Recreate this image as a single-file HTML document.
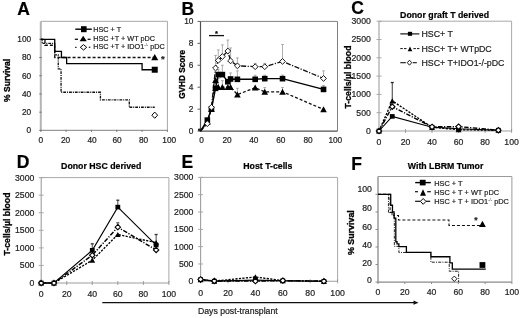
<!DOCTYPE html><html><head><meta charset="utf-8"><style>html,body{margin:0;padding:0;background:#fff;width:520px;height:318px;overflow:hidden}svg{will-change:transform;filter:blur(0.3px)}svg{display:block;font-family:"Liberation Sans", sans-serif}</style></head><body>
<svg width="520" height="318" viewBox="0 0 520 318">
<rect width="520" height="318" fill="#fff"/>
<text x="17.3" y="15.3" font-size="17.5" text-anchor="start" font-weight="bold" fill="#000" stroke="#000" stroke-width="0.2" >A</text>
<line x1="40.8" y1="21.3" x2="167.4" y2="21.3" stroke="#a8a8a8" stroke-width="1.0"/>
<line x1="167.4" y1="21.3" x2="167.4" y2="130.4" stroke="#a8a8a8" stroke-width="1.0"/>
<line x1="40.8" y1="21.3" x2="40.8" y2="130.9" stroke="#b4b4b4" stroke-width="2.0"/>
<line x1="40.3" y1="130.4" x2="167.4" y2="130.4" stroke="#9a9a9a" stroke-width="1.2"/>
<line x1="39.3" y1="130.4" x2="41.8" y2="130.4" stroke="#777" stroke-width="1"/>
<text x="31.2" y="133.3" font-size="8.3" text-anchor="end" fill="#222" stroke="#222" stroke-width="0.2" >0</text>
<line x1="39.3" y1="112.18" x2="41.8" y2="112.18" stroke="#777" stroke-width="1"/>
<text x="31.2" y="115.08" font-size="8.3" text-anchor="end" fill="#222" stroke="#222" stroke-width="0.2" >20</text>
<line x1="39.3" y1="93.96" x2="41.8" y2="93.96" stroke="#777" stroke-width="1"/>
<text x="31.2" y="96.86" font-size="8.3" text-anchor="end" fill="#222" stroke="#222" stroke-width="0.2" >40</text>
<line x1="39.3" y1="75.74" x2="41.8" y2="75.74" stroke="#777" stroke-width="1"/>
<text x="31.2" y="78.64" font-size="8.3" text-anchor="end" fill="#222" stroke="#222" stroke-width="0.2" >60</text>
<line x1="39.3" y1="57.52" x2="41.8" y2="57.52" stroke="#777" stroke-width="1"/>
<text x="31.2" y="60.42" font-size="8.3" text-anchor="end" fill="#222" stroke="#222" stroke-width="0.2" >80</text>
<line x1="39.3" y1="39.3" x2="41.8" y2="39.3" stroke="#777" stroke-width="1"/>
<text x="31.2" y="42.2" font-size="8.3" text-anchor="end" fill="#222" stroke="#222" stroke-width="0.2" >100</text>
<line x1="40.8" y1="129.9" x2="40.8" y2="131.9" stroke="#777" stroke-width="1"/>
<text x="40.8" y="142.6" font-size="8.3" text-anchor="middle" fill="#222" stroke="#222" stroke-width="0.2" >0</text>
<line x1="66.12" y1="129.9" x2="66.12" y2="131.9" stroke="#777" stroke-width="1"/>
<text x="65.5" y="142.6" font-size="8.3" text-anchor="middle" fill="#222" stroke="#222" stroke-width="0.2" >20</text>
<line x1="91.44" y1="129.9" x2="91.44" y2="131.9" stroke="#777" stroke-width="1"/>
<text x="92" y="142.6" font-size="8.3" text-anchor="middle" fill="#222" stroke="#222" stroke-width="0.2" >40</text>
<line x1="116.76" y1="129.9" x2="116.76" y2="131.9" stroke="#777" stroke-width="1"/>
<text x="117.1" y="142.6" font-size="8.3" text-anchor="middle" fill="#222" stroke="#222" stroke-width="0.2" >60</text>
<line x1="142.08" y1="129.9" x2="142.08" y2="131.9" stroke="#777" stroke-width="1"/>
<text x="143.6" y="142.6" font-size="8.3" text-anchor="middle" fill="#222" stroke="#222" stroke-width="0.2" >80</text>
<line x1="167.4" y1="129.9" x2="167.4" y2="131.9" stroke="#777" stroke-width="1"/>
<text x="169.2" y="142.6" font-size="8.3" text-anchor="middle" fill="#222" stroke="#222" stroke-width="0.2" >100</text>
<text transform="translate(9.8,80.4) rotate(-90)" font-size="8.5" font-weight="bold" text-anchor="middle" fill="#000" stroke="#000" stroke-width="0.3">% Survival</text>
<polyline points="40.8,39.3 42.19,39.3 42.19,43.4 54.73,43.4 54.73,54.79 58.27,54.79 58.27,68.91 61.06,68.91 61.06,92.23 100.43,92.23 100.43,99.88 129.29,99.88 129.29,107.26 154.74,107.26" fill="none" stroke="#111" stroke-width="1.3" stroke-dasharray="2.8 1 1 1" stroke-linejoin="miter"/>
<polyline points="40.8,39.3 44.98,39.3 44.98,45.22 54.73,45.22 54.73,57.52 154.74,57.52" fill="none" stroke="#111" stroke-width="1.35" stroke-dasharray="3 2" stroke-linejoin="miter"/>
<polyline points="40.8,39.3 54.73,39.3 54.73,51.33 61.44,51.33 61.44,57.52 66.63,57.52 66.63,63.62 142.08,63.62 142.08,69.73 154.74,69.73" fill="none" stroke="#000" stroke-width="1.3" stroke-linejoin="miter"/>
<rect x="151.74" y="66.73" width="6" height="6" fill="#000"/>
<polygon points="154.74,53.89 158.26,60.29 151.22,60.29" fill="#000"/>
<polygon points="154.74,112.09 157.64,115.19 154.74,118.29 151.84,115.19" fill="#fff" stroke="#000" stroke-width="1.0"/>
<text x="161.1" y="62.3" font-size="9.5" text-anchor="start" font-weight="bold" fill="#222" stroke="#222" stroke-width="0.2" >*</text>
<line x1="75.3" y1="29.2" x2="91.8" y2="29.2" stroke="#000" stroke-width="1.4"/>
<rect x="81" y="26.2" width="5.6" height="6" fill="#000"/>
<line x1="74.8" y1="39.3" x2="78" y2="39.3" stroke="#111" stroke-width="1.3"/>
<line x1="87.6" y1="39.3" x2="90.6" y2="39.3" stroke="#111" stroke-width="1.3"/>
<polygon points="83.2,35.7 86.8,41.3 79.6,41.3" fill="#000"/>
<line x1="75.1" y1="47.3" x2="76.6" y2="47.3" stroke="#222" stroke-width="1.3"/>
<line x1="88.8" y1="47.3" x2="90.3" y2="47.3" stroke="#222" stroke-width="1.3"/>
<polygon points="83.5,44.6 86.7,47.3 83.5,50 80.3,47.3" fill="#fff" stroke="#000" stroke-width="1.0"/>
<text x="93.2" y="32.3" font-size="7.25" text-anchor="start" fill="#222" stroke="#222" stroke-width="0.2" >HSC + T</text>
<text x="93.2" y="40.9" font-size="7.25" text-anchor="start" fill="#222" stroke="#222" stroke-width="0.2" >HSC +T + WT pDC</text>
<text x="93.2" y="48.9" font-size="7.25" text-anchor="start" fill="#222" stroke="#222" stroke-width="0.2" >HSC +T + IDO1<tspan font-size="4.2" dy="-2.8" stroke-width="0">-/-</tspan><tspan dy="2.8"> pDC</tspan></text>
<text x="181.6" y="14.5" font-size="17.5" text-anchor="start" font-weight="bold" fill="#000" stroke="#000" stroke-width="0.2" >B</text>
<line x1="200.5" y1="21.4" x2="337.5" y2="21.4" stroke="#808080" stroke-width="1.0"/>
<line x1="337.5" y1="21.4" x2="337.5" y2="131.1" stroke="#808080" stroke-width="1.0"/>
<line x1="200.5" y1="21.4" x2="200.5" y2="131.6" stroke="#505050" stroke-width="1.2"/>
<line x1="200" y1="131.1" x2="337.5" y2="131.1" stroke="#505050" stroke-width="1.2"/>
<line x1="197.5" y1="131.1" x2="200.5" y2="131.1" stroke="#606060" stroke-width="1"/>
<text x="193.4" y="134" font-size="8.3" text-anchor="end" fill="#222" stroke="#222" stroke-width="0.2" >0</text>
<line x1="197.5" y1="109.16" x2="200.5" y2="109.16" stroke="#606060" stroke-width="1"/>
<text x="193.4" y="112.06" font-size="8.3" text-anchor="end" fill="#222" stroke="#222" stroke-width="0.2" >2</text>
<line x1="197.5" y1="87.22" x2="200.5" y2="87.22" stroke="#606060" stroke-width="1"/>
<text x="193.4" y="90.12" font-size="8.3" text-anchor="end" fill="#222" stroke="#222" stroke-width="0.2" >4</text>
<line x1="197.5" y1="65.28" x2="200.5" y2="65.28" stroke="#606060" stroke-width="1"/>
<text x="193.4" y="68.18" font-size="8.3" text-anchor="end" fill="#222" stroke="#222" stroke-width="0.2" >6</text>
<line x1="197.5" y1="43.34" x2="200.5" y2="43.34" stroke="#606060" stroke-width="1"/>
<text x="193.4" y="46.24" font-size="8.3" text-anchor="end" fill="#222" stroke="#222" stroke-width="0.2" >8</text>
<line x1="197.5" y1="21.4" x2="200.5" y2="21.4" stroke="#606060" stroke-width="1"/>
<text x="193.4" y="24.3" font-size="8.3" text-anchor="end" fill="#222" stroke="#222" stroke-width="0.2" >10</text>
<text x="201.6" y="142.6" font-size="8.3" text-anchor="middle" fill="#222" stroke="#222" stroke-width="0.2" >0</text>
<text x="227" y="142.6" font-size="8.3" text-anchor="middle" fill="#222" stroke="#222" stroke-width="0.2" >20</text>
<text x="253.8" y="142.6" font-size="8.3" text-anchor="middle" fill="#222" stroke="#222" stroke-width="0.2" >40</text>
<text x="280.8" y="142.6" font-size="8.3" text-anchor="middle" fill="#222" stroke="#222" stroke-width="0.2" >60</text>
<text x="308.1" y="142.6" font-size="8.3" text-anchor="middle" fill="#222" stroke="#222" stroke-width="0.2" >80</text>
<text x="335.3" y="142.6" font-size="8.3" text-anchor="middle" fill="#222" stroke="#222" stroke-width="0.2" >100</text>
<text transform="translate(184.7,74.4) rotate(-90)" font-size="8.2" font-weight="bold" text-anchor="middle" fill="#000" stroke="#000" stroke-width="0.3">GVHD Score</text>
<line x1="209" y1="35.6" x2="224" y2="35.6" stroke="#111" stroke-width="1.3"/>
<text x="215" y="36.4" font-size="7.5" text-anchor="start" font-weight="bold" fill="#000" stroke="#000" stroke-width="0.2" >*</text>
<line x1="215.54" y1="68.02" x2="215.54" y2="55.41" stroke="#999" stroke-width="0.8"/>
<line x1="214.14" y1="55.41" x2="216.94" y2="55.41" stroke="#999" stroke-width="0.8"/>
<line x1="218.27" y1="60.34" x2="218.27" y2="49.92" stroke="#999" stroke-width="0.8"/>
<line x1="216.87" y1="49.92" x2="219.67" y2="49.92" stroke="#999" stroke-width="0.8"/>
<line x1="222.37" y1="56.5" x2="222.37" y2="44.88" stroke="#999" stroke-width="0.8"/>
<line x1="220.97" y1="44.88" x2="223.77" y2="44.88" stroke="#999" stroke-width="0.8"/>
<line x1="227.84" y1="51.02" x2="227.84" y2="40.05" stroke="#999" stroke-width="0.8"/>
<line x1="226.44" y1="40.05" x2="229.24" y2="40.05" stroke="#999" stroke-width="0.8"/>
<line x1="230.57" y1="60.89" x2="230.57" y2="47.95" stroke="#999" stroke-width="0.8"/>
<line x1="229.17" y1="47.95" x2="231.97" y2="47.95" stroke="#999" stroke-width="0.8"/>
<line x1="237.41" y1="65.83" x2="237.41" y2="57.93" stroke="#999" stroke-width="0.8"/>
<line x1="236.01" y1="57.93" x2="238.81" y2="57.93" stroke="#999" stroke-width="0.8"/>
<line x1="255.18" y1="66.71" x2="255.18" y2="63.42" stroke="#999" stroke-width="0.8"/>
<line x1="253.78" y1="63.42" x2="256.58" y2="63.42" stroke="#999" stroke-width="0.8"/>
<line x1="264.75" y1="66.71" x2="264.75" y2="63.42" stroke="#999" stroke-width="0.8"/>
<line x1="263.35" y1="63.42" x2="266.15" y2="63.42" stroke="#999" stroke-width="0.8"/>
<line x1="282.52" y1="61.44" x2="282.52" y2="44.44" stroke="#999" stroke-width="0.8"/>
<line x1="281.12" y1="44.44" x2="283.92" y2="44.44" stroke="#999" stroke-width="0.8"/>
<line x1="323.53" y1="78.44" x2="323.53" y2="70.87" stroke="#999" stroke-width="0.8"/>
<line x1="322.13" y1="70.87" x2="324.93" y2="70.87" stroke="#999" stroke-width="0.8"/>
<line x1="218.27" y1="74.6" x2="218.27" y2="69.67" stroke="#999" stroke-width="0.8"/>
<line x1="216.87" y1="69.67" x2="219.67" y2="69.67" stroke="#999" stroke-width="0.8"/>
<line x1="222.37" y1="74.6" x2="222.37" y2="65.28" stroke="#999" stroke-width="0.8"/>
<line x1="220.97" y1="65.28" x2="223.77" y2="65.28" stroke="#999" stroke-width="0.8"/>
<line x1="230.57" y1="78.99" x2="230.57" y2="72.96" stroke="#999" stroke-width="0.8"/>
<line x1="229.17" y1="72.96" x2="231.97" y2="72.96" stroke="#999" stroke-width="0.8"/>
<line x1="237.41" y1="79.32" x2="237.41" y2="70.87" stroke="#999" stroke-width="0.8"/>
<line x1="236.01" y1="70.87" x2="238.81" y2="70.87" stroke="#999" stroke-width="0.8"/>
<line x1="255.18" y1="79.32" x2="255.18" y2="75.26" stroke="#999" stroke-width="0.8"/>
<line x1="253.78" y1="75.26" x2="256.58" y2="75.26" stroke="#999" stroke-width="0.8"/>
<line x1="264.75" y1="78.66" x2="264.75" y2="75.26" stroke="#999" stroke-width="0.8"/>
<line x1="263.35" y1="75.26" x2="266.15" y2="75.26" stroke="#999" stroke-width="0.8"/>
<line x1="282.52" y1="78.66" x2="282.52" y2="75.15" stroke="#999" stroke-width="0.8"/>
<line x1="281.12" y1="75.15" x2="283.92" y2="75.15" stroke="#999" stroke-width="0.8"/>
<line x1="323.53" y1="89.41" x2="323.53" y2="85.57" stroke="#999" stroke-width="0.8"/>
<line x1="322.13" y1="85.57" x2="324.93" y2="85.57" stroke="#999" stroke-width="0.8"/>
<line x1="218.27" y1="87.22" x2="218.27" y2="78.44" stroke="#999" stroke-width="0.8"/>
<line x1="216.87" y1="78.44" x2="219.67" y2="78.44" stroke="#999" stroke-width="0.8"/>
<line x1="222.37" y1="87.22" x2="222.37" y2="80.64" stroke="#999" stroke-width="0.8"/>
<line x1="220.97" y1="80.64" x2="223.77" y2="80.64" stroke="#999" stroke-width="0.8"/>
<line x1="230.57" y1="87.22" x2="230.57" y2="81.73" stroke="#999" stroke-width="0.8"/>
<line x1="229.17" y1="81.73" x2="231.97" y2="81.73" stroke="#999" stroke-width="0.8"/>
<line x1="237.41" y1="94.57" x2="237.41" y2="88.32" stroke="#999" stroke-width="0.8"/>
<line x1="236.01" y1="88.32" x2="238.81" y2="88.32" stroke="#999" stroke-width="0.8"/>
<line x1="264.75" y1="91.83" x2="264.75" y2="87.55" stroke="#999" stroke-width="0.8"/>
<line x1="263.35" y1="87.55" x2="266.15" y2="87.55" stroke="#999" stroke-width="0.8"/>
<line x1="282.52" y1="91.83" x2="282.52" y2="87.55" stroke="#999" stroke-width="0.8"/>
<line x1="281.12" y1="87.55" x2="283.92" y2="87.55" stroke="#999" stroke-width="0.8"/>
<polyline points="200.5,131.1 207.34,121.78 211.44,109.16 215.54,80.09 218.27,87.22 222.37,87.22 227.84,87.22 230.57,87.22 237.41,94.57 255.18,87.77 264.75,91.83 282.52,91.83 323.53,109.38" fill="none" stroke="#111" stroke-width="1.3" stroke-dasharray="3 2" stroke-linejoin="miter"/>
<polyline points="200.5,131.1 207.34,123.64 211.44,107.3 215.54,68.02 218.27,60.34 222.37,56.5 227.84,51.02 230.57,60.89 237.41,65.83 255.18,66.71 264.75,66.71 282.52,61.44 323.53,78.44" fill="none" stroke="#111" stroke-width="1.3" stroke-dasharray="5 1.5 1.2 1.5" stroke-linejoin="miter"/>
<polyline points="200.5,131.1 207.34,120.13 211.44,109.16 215.54,88.32 218.27,74.6 222.37,74.6 227.84,81.73 230.57,78.99 237.41,79.32 255.18,79.32 264.75,78.66 282.52,78.66 323.53,89.41" fill="none" stroke="#000" stroke-width="1.4" stroke-linejoin="miter"/>
<polygon points="207.34,118.63 210.64,124.63 204.03,124.63" fill="#000"/>
<polygon points="211.44,106.01 214.74,112.01 208.14,112.01" fill="#000"/>
<polygon points="215.54,76.94 218.84,82.94 212.24,82.94" fill="#000"/>
<polygon points="218.27,84.07 221.57,90.07 214.97,90.07" fill="#000"/>
<polygon points="222.37,84.07 225.67,90.07 219.07,90.07" fill="#000"/>
<polygon points="227.84,84.07 231.14,90.07 224.54,90.07" fill="#000"/>
<polygon points="230.57,84.07 233.87,90.07 227.27,90.07" fill="#000"/>
<polygon points="237.41,91.42 240.71,97.42 234.11,97.42" fill="#000"/>
<polygon points="255.18,84.62 258.48,90.62 251.88,90.62" fill="#000"/>
<polygon points="264.75,88.68 268.05,94.68 261.45,94.68" fill="#000"/>
<polygon points="282.52,88.68 285.82,94.68 279.22,94.68" fill="#000"/>
<polygon points="323.53,106.23 326.83,112.23 320.23,112.23" fill="#000"/>
<rect x="204.53" y="117.33" width="5.6" height="5.6" fill="#000"/>
<rect x="208.64" y="106.36" width="5.6" height="5.6" fill="#000"/>
<rect x="212.74" y="85.52" width="5.6" height="5.6" fill="#000"/>
<rect x="215.47" y="71.8" width="5.6" height="5.6" fill="#000"/>
<rect x="219.57" y="71.8" width="5.6" height="5.6" fill="#000"/>
<rect x="225.04" y="78.93" width="5.6" height="5.6" fill="#000"/>
<rect x="227.77" y="76.19" width="5.6" height="5.6" fill="#000"/>
<rect x="234.61" y="76.52" width="5.6" height="5.6" fill="#000"/>
<rect x="252.38" y="76.52" width="5.6" height="5.6" fill="#000"/>
<rect x="261.95" y="75.86" width="5.6" height="5.6" fill="#000"/>
<rect x="279.72" y="75.86" width="5.6" height="5.6" fill="#000"/>
<rect x="320.73" y="86.61" width="5.6" height="5.6" fill="#000"/>
<polygon points="207.34,120.74 210.24,123.64 207.34,126.54 204.44,123.64" fill="#fff" stroke="#000" stroke-width="0.9"/>
<polygon points="211.44,104.4 214.34,107.3 211.44,110.2 208.54,107.3" fill="#fff" stroke="#000" stroke-width="0.9"/>
<polygon points="215.54,65.12 218.44,68.02 215.54,70.92 212.64,68.02" fill="#fff" stroke="#000" stroke-width="0.9"/>
<polygon points="218.27,57.44 221.17,60.34 218.27,63.24 215.37,60.34" fill="#fff" stroke="#000" stroke-width="0.9"/>
<polygon points="222.37,53.6 225.27,56.5 222.37,59.4 219.47,56.5" fill="#fff" stroke="#000" stroke-width="0.9"/>
<polygon points="227.84,48.12 230.74,51.02 227.84,53.92 224.94,51.02" fill="#fff" stroke="#000" stroke-width="0.9"/>
<polygon points="230.57,57.99 233.47,60.89 230.57,63.79 227.67,60.89" fill="#fff" stroke="#000" stroke-width="0.9"/>
<polygon points="237.41,62.93 240.31,65.83 237.41,68.73 234.51,65.83" fill="#fff" stroke="#000" stroke-width="0.9"/>
<polygon points="255.18,63.81 258.08,66.71 255.18,69.61 252.28,66.71" fill="#fff" stroke="#000" stroke-width="0.9"/>
<polygon points="264.75,63.81 267.65,66.71 264.75,69.61 261.85,66.71" fill="#fff" stroke="#000" stroke-width="0.9"/>
<polygon points="282.52,58.54 285.42,61.44 282.52,64.34 279.62,61.44" fill="#fff" stroke="#000" stroke-width="0.9"/>
<polygon points="323.53,75.54 326.43,78.44 323.53,81.34 320.63,78.44" fill="#fff" stroke="#000" stroke-width="0.9"/>
<circle cx="199.3" cy="129.8" r="1.4" fill="#222"/>
<text x="351.2" y="14.2" font-size="17.5" text-anchor="start" font-weight="bold" fill="#000" stroke="#000" stroke-width="0.2" >C</text>
<text x="400.1" y="18.3" font-size="8.75" text-anchor="start" font-weight="bold" fill="#000" stroke="#000" stroke-width="0.2" >Donor graft T derived</text>
<line x1="379" y1="21.2" x2="511.6" y2="21.2" stroke="#a8a8a8" stroke-width="1.0"/>
<line x1="511.6" y1="21.2" x2="511.6" y2="131" stroke="#a8a8a8" stroke-width="1.0"/>
<line x1="379" y1="21.2" x2="379" y2="131.5" stroke="#9e9e9e" stroke-width="1.1"/>
<line x1="378.5" y1="131" x2="511.6" y2="131" stroke="#9e9e9e" stroke-width="1.1"/>
<line x1="376.5" y1="131" x2="381.5" y2="131" stroke="#a0a0a0" stroke-width="0.9"/>
<text x="370.8" y="133.9" font-size="8.7" text-anchor="end" fill="#222" stroke="#222" stroke-width="0.2" >0</text>
<line x1="376.5" y1="112.7" x2="381.5" y2="112.7" stroke="#a0a0a0" stroke-width="0.9"/>
<text x="370.8" y="115.6" font-size="8.7" text-anchor="end" fill="#222" stroke="#222" stroke-width="0.2" >500</text>
<line x1="376.5" y1="94.4" x2="381.5" y2="94.4" stroke="#a0a0a0" stroke-width="0.9"/>
<text x="370.8" y="97.3" font-size="8.7" text-anchor="end" fill="#222" stroke="#222" stroke-width="0.2" >1000</text>
<line x1="376.5" y1="76.1" x2="381.5" y2="76.1" stroke="#a0a0a0" stroke-width="0.9"/>
<text x="370.8" y="79" font-size="8.7" text-anchor="end" fill="#222" stroke="#222" stroke-width="0.2" >1500</text>
<line x1="376.5" y1="57.8" x2="381.5" y2="57.8" stroke="#a0a0a0" stroke-width="0.9"/>
<text x="370.8" y="60.7" font-size="8.7" text-anchor="end" fill="#222" stroke="#222" stroke-width="0.2" >2000</text>
<line x1="376.5" y1="39.5" x2="381.5" y2="39.5" stroke="#a0a0a0" stroke-width="0.9"/>
<text x="370.8" y="42.4" font-size="8.7" text-anchor="end" fill="#222" stroke="#222" stroke-width="0.2" >2500</text>
<line x1="376.5" y1="21.2" x2="381.5" y2="21.2" stroke="#a0a0a0" stroke-width="0.9"/>
<text x="370.8" y="24.1" font-size="8.7" text-anchor="end" fill="#222" stroke="#222" stroke-width="0.2" >3000</text>
<line x1="379" y1="129" x2="379" y2="133" stroke="#8c8c8c" stroke-width="0.8"/>
<text x="379" y="144.7" font-size="8.7" text-anchor="middle" fill="#222" stroke="#222" stroke-width="0.2" >0</text>
<line x1="405.52" y1="129" x2="405.52" y2="133" stroke="#8c8c8c" stroke-width="0.8"/>
<text x="405.52" y="144.7" font-size="8.7" text-anchor="middle" fill="#222" stroke="#222" stroke-width="0.2" >20</text>
<line x1="432.04" y1="129" x2="432.04" y2="133" stroke="#8c8c8c" stroke-width="0.8"/>
<text x="432.04" y="144.7" font-size="8.7" text-anchor="middle" fill="#222" stroke="#222" stroke-width="0.2" >40</text>
<line x1="458.56" y1="129" x2="458.56" y2="133" stroke="#8c8c8c" stroke-width="0.8"/>
<text x="458.56" y="144.7" font-size="8.7" text-anchor="middle" fill="#222" stroke="#222" stroke-width="0.2" >60</text>
<line x1="485.08" y1="129" x2="485.08" y2="133" stroke="#8c8c8c" stroke-width="0.8"/>
<text x="485.08" y="144.7" font-size="8.7" text-anchor="middle" fill="#222" stroke="#222" stroke-width="0.2" >80</text>
<line x1="511.6" y1="129" x2="511.6" y2="133" stroke="#8c8c8c" stroke-width="0.8"/>
<text x="511.6" y="144.7" font-size="8.7" text-anchor="middle" fill="#222" stroke="#222" stroke-width="0.2" >100</text>
<text transform="translate(350.9,77.0) rotate(-90)" font-size="8.7" font-weight="bold" text-anchor="middle" fill="#000" stroke="#000" stroke-width="0.3">T-cells/µl blood</text>
<line x1="392.26" y1="100.81" x2="392.26" y2="82.32" stroke="#222" stroke-width="0.9"/>
<line x1="390.76" y1="82.52" x2="393.76" y2="82.52" stroke="#222" stroke-width="1.3"/>
<polyline points="379,131 392.26,100.81 432.04,127.34 458.56,129.72 498.34,130.27" fill="none" stroke="#000" stroke-width="1.35" stroke-dasharray="2.2 1.3" stroke-linejoin="miter"/>
<polyline points="379,131 392.26,106.7 432.04,126.9 458.56,126.61 498.34,130.19" fill="none" stroke="#000" stroke-width="1.45" stroke-dasharray="4.5 1.5 1.2 1.5" stroke-linejoin="miter"/>
<polyline points="379,131 392.26,116.4 432.04,127.16 458.56,128.8 498.34,130.19" fill="none" stroke="#000" stroke-width="1.1" stroke-linejoin="miter"/>
<rect x="376.6" y="128.7" width="4.8" height="4.6" fill="#000"/>
<rect x="389.86" y="114.1" width="4.8" height="4.6" fill="#000"/>
<rect x="429.64" y="124.86" width="4.8" height="4.6" fill="#000"/>
<rect x="456.16" y="126.5" width="4.8" height="4.6" fill="#000"/>
<rect x="495.94" y="127.89" width="4.8" height="4.6" fill="#000"/>
<polygon points="379,128.4 381.9,133.6 376.1,133.6" fill="#000"/>
<polygon points="392.26,98.21 395.16,103.41 389.36,103.41" fill="#000"/>
<polygon points="432.04,124.74 434.94,129.94 429.14,129.94" fill="#000"/>
<polygon points="458.56,127.12 461.46,132.32 455.66,132.32" fill="#000"/>
<polygon points="498.34,127.67 501.24,132.87 495.44,132.87" fill="#000"/>
<polygon points="379,128.3 381.7,131 379,133.7 376.3,131" fill="#fff" stroke="#000" stroke-width="1.1"/>
<polygon points="392.26,104 394.96,106.7 392.26,109.4 389.56,106.7" fill="#fff" stroke="#000" stroke-width="1.1"/>
<polygon points="432.04,124.2 434.74,126.9 432.04,129.6 429.34,126.9" fill="#fff" stroke="#000" stroke-width="1.1"/>
<polygon points="458.56,123.91 461.26,126.61 458.56,129.31 455.86,126.61" fill="#fff" stroke="#000" stroke-width="1.1"/>
<polygon points="498.34,127.49 501.04,130.19 498.34,132.89 495.64,130.19" fill="#fff" stroke="#000" stroke-width="1.1"/>
<line x1="400.3" y1="33.9" x2="419.3" y2="33.9" stroke="#000" stroke-width="1.1"/>
<rect x="407.9" y="31.8" width="4.2" height="4" fill="#000"/>
<line x1="400.3" y1="48.6" x2="402.8" y2="48.6" stroke="#111" stroke-width="1.0"/>
<line x1="404" y1="48.6" x2="406.5" y2="48.6" stroke="#111" stroke-width="1.0"/>
<line x1="413.4" y1="48.6" x2="415.9" y2="48.6" stroke="#111" stroke-width="1.0"/>
<line x1="417" y1="48.6" x2="419.4" y2="48.6" stroke="#111" stroke-width="1.0"/>
<polygon points="410,46.6 412.3,51.2 407.7,51.2" fill="#000"/>
<line x1="400.3" y1="62.7" x2="405.8" y2="62.7" stroke="#111" stroke-width="1.1"/>
<line x1="412.8" y1="62.7" x2="416.8" y2="62.7" stroke="#111" stroke-width="1.1"/>
<polygon points="409.5,60.2 411.7,62.7 409.5,65.2 407.3,62.7" fill="#fff" stroke="#000" stroke-width="0.9"/>
<text x="421.5" y="37.1" font-size="8.8" text-anchor="start" fill="#222" stroke="#222" stroke-width="0.2" >HSC+ T</text>
<text x="421.5" y="52" font-size="8.8" text-anchor="start" fill="#222" stroke="#222" stroke-width="0.2" >HSC+ T+ WTpDC</text>
<text x="421.5" y="66.1" font-size="8.8" text-anchor="start" fill="#222" stroke="#222" stroke-width="0.2" >HSC+ T+IDO1-/-pDC</text>
<text x="16.8" y="167.7" font-size="17.5" text-anchor="start" font-weight="bold" fill="#000" stroke="#000" stroke-width="0.2" >D</text>
<text x="61.1" y="169.2" font-size="8.75" text-anchor="start" font-weight="bold" fill="#000" stroke="#000" stroke-width="0.2" >Donor HSC derived</text>
<line x1="41.2" y1="177.6" x2="168.9" y2="177.6" stroke="#a8a8a8" stroke-width="1.0"/>
<line x1="168.9" y1="177.6" x2="168.9" y2="283" stroke="#a8a8a8" stroke-width="1.0"/>
<line x1="41.2" y1="177.6" x2="41.2" y2="283.5" stroke="#9e9e9e" stroke-width="1.1"/>
<line x1="40.7" y1="283" x2="168.9" y2="283" stroke="#9e9e9e" stroke-width="1.1"/>
<line x1="38.7" y1="283" x2="43.7" y2="283" stroke="#a0a0a0" stroke-width="0.9"/>
<text x="34.3" y="285.9" font-size="8.7" text-anchor="end" fill="#222" stroke="#222" stroke-width="0.2" >0</text>
<line x1="38.7" y1="265.43" x2="43.7" y2="265.43" stroke="#a0a0a0" stroke-width="0.9"/>
<text x="34.3" y="268.33" font-size="8.7" text-anchor="end" fill="#222" stroke="#222" stroke-width="0.2" >500</text>
<line x1="38.7" y1="247.87" x2="43.7" y2="247.87" stroke="#a0a0a0" stroke-width="0.9"/>
<text x="34.3" y="250.77" font-size="8.7" text-anchor="end" fill="#222" stroke="#222" stroke-width="0.2" >1000</text>
<line x1="38.7" y1="230.3" x2="43.7" y2="230.3" stroke="#a0a0a0" stroke-width="0.9"/>
<text x="34.3" y="233.2" font-size="8.7" text-anchor="end" fill="#222" stroke="#222" stroke-width="0.2" >1500</text>
<line x1="38.7" y1="212.73" x2="43.7" y2="212.73" stroke="#a0a0a0" stroke-width="0.9"/>
<text x="34.3" y="215.63" font-size="8.7" text-anchor="end" fill="#222" stroke="#222" stroke-width="0.2" >2000</text>
<line x1="38.7" y1="195.17" x2="43.7" y2="195.17" stroke="#a0a0a0" stroke-width="0.9"/>
<text x="34.3" y="198.07" font-size="8.7" text-anchor="end" fill="#222" stroke="#222" stroke-width="0.2" >2500</text>
<line x1="38.7" y1="177.6" x2="43.7" y2="177.6" stroke="#a0a0a0" stroke-width="0.9"/>
<text x="34.3" y="180.5" font-size="8.7" text-anchor="end" fill="#222" stroke="#222" stroke-width="0.2" >3000</text>
<line x1="41.2" y1="281" x2="41.2" y2="285" stroke="#8c8c8c" stroke-width="0.8"/>
<text x="41.2" y="296.8" font-size="8.7" text-anchor="middle" fill="#222" stroke="#222" stroke-width="0.2" >0</text>
<line x1="66.74" y1="281" x2="66.74" y2="285" stroke="#8c8c8c" stroke-width="0.8"/>
<text x="66.74" y="296.8" font-size="8.7" text-anchor="middle" fill="#222" stroke="#222" stroke-width="0.2" >20</text>
<line x1="92.28" y1="281" x2="92.28" y2="285" stroke="#8c8c8c" stroke-width="0.8"/>
<text x="92.28" y="296.8" font-size="8.7" text-anchor="middle" fill="#222" stroke="#222" stroke-width="0.2" >40</text>
<line x1="117.82" y1="281" x2="117.82" y2="285" stroke="#8c8c8c" stroke-width="0.8"/>
<text x="117.82" y="296.8" font-size="8.7" text-anchor="middle" fill="#222" stroke="#222" stroke-width="0.2" >60</text>
<line x1="143.36" y1="281" x2="143.36" y2="285" stroke="#8c8c8c" stroke-width="0.8"/>
<text x="143.36" y="296.8" font-size="8.7" text-anchor="middle" fill="#222" stroke="#222" stroke-width="0.2" >80</text>
<line x1="168.9" y1="281" x2="168.9" y2="285" stroke="#8c8c8c" stroke-width="0.8"/>
<text x="168.9" y="296.8" font-size="8.7" text-anchor="middle" fill="#222" stroke="#222" stroke-width="0.2" >100</text>
<text transform="translate(9.5,224.0) rotate(-90)" font-size="8.7" font-weight="bold" text-anchor="middle" fill="#000" stroke="#000" stroke-width="0.3">T-cells/µl blood</text>
<line x1="92.28" y1="250.29" x2="92.28" y2="243.65" stroke="#333" stroke-width="0.9"/>
<line x1="90.78" y1="243.85" x2="93.78" y2="243.85" stroke="#333" stroke-width="1.3"/>
<line x1="117.82" y1="207.11" x2="117.82" y2="200.02" stroke="#333" stroke-width="0.9"/>
<line x1="116.32" y1="200.22" x2="119.32" y2="200.22" stroke="#333" stroke-width="1.3"/>
<line x1="117.82" y1="227.14" x2="117.82" y2="222.61" stroke="#555" stroke-width="0.9"/>
<line x1="116.32" y1="222.81" x2="119.32" y2="222.81" stroke="#555" stroke-width="1.3"/>
<line x1="156.13" y1="242.6" x2="156.13" y2="234.31" stroke="#333" stroke-width="0.9"/>
<line x1="154.63" y1="234.51" x2="157.63" y2="234.51" stroke="#333" stroke-width="1.3"/>
<polyline points="41.2,283 53.97,283 92.28,260.2 117.82,234.52 156.13,242.6" fill="none" stroke="#000" stroke-width="1.35" stroke-dasharray="2.2 1.3" stroke-linejoin="miter"/>
<polyline points="41.2,283 53.97,283 92.28,255.21 117.82,227.14 156.13,249.97" fill="none" stroke="#000" stroke-width="1.45" stroke-dasharray="4.5 1.5 1.2 1.5" stroke-linejoin="miter"/>
<polyline points="41.2,283 53.97,283 92.28,250.29 117.82,207.11 156.13,245.06" fill="none" stroke="#000" stroke-width="1.1" stroke-linejoin="miter"/>
<rect x="38.8" y="280.7" width="4.8" height="4.6" fill="#000"/>
<rect x="51.57" y="280.7" width="4.8" height="4.6" fill="#000"/>
<rect x="89.88" y="247.99" width="4.8" height="4.6" fill="#000"/>
<rect x="115.42" y="204.81" width="4.8" height="4.6" fill="#000"/>
<rect x="153.73" y="242.76" width="4.8" height="4.6" fill="#000"/>
<polygon points="41.2,280.4 44.1,285.6 38.3,285.6" fill="#000"/>
<polygon points="53.97,280.4 56.87,285.6 51.07,285.6" fill="#000"/>
<polygon points="92.28,257.6 95.18,262.8 89.38,262.8" fill="#000"/>
<polygon points="117.82,231.92 120.72,237.12 114.92,237.12" fill="#000"/>
<polygon points="156.13,240 159.03,245.2 153.23,245.2" fill="#000"/>
<polygon points="41.2,280.3 43.9,283 41.2,285.7 38.5,283" fill="#fff" stroke="#000" stroke-width="1.1"/>
<polygon points="53.97,280.3 56.67,283 53.97,285.7 51.27,283" fill="#fff" stroke="#000" stroke-width="1.1"/>
<polygon points="92.28,252.51 94.98,255.21 92.28,257.91 89.58,255.21" fill="#fff" stroke="#000" stroke-width="1.1"/>
<polygon points="117.82,224.44 120.52,227.14 117.82,229.84 115.12,227.14" fill="#fff" stroke="#000" stroke-width="1.1"/>
<polygon points="156.13,247.27 158.83,249.97 156.13,252.67 153.43,249.97" fill="#fff" stroke="#000" stroke-width="1.1"/>
<text x="181.4" y="168.3" font-size="17.5" text-anchor="start" font-weight="bold" fill="#000" stroke="#000" stroke-width="0.2" >E</text>
<text x="243.3" y="168.9" font-size="8.75" text-anchor="start" font-weight="bold" fill="#000" stroke="#000" stroke-width="0.2" >Host T-cells</text>
<line x1="200.6" y1="177.4" x2="337.6" y2="177.4" stroke="#a8a8a8" stroke-width="1.0"/>
<line x1="337.6" y1="177.4" x2="337.6" y2="281.3" stroke="#a8a8a8" stroke-width="1.0"/>
<line x1="200.6" y1="177.4" x2="200.6" y2="281.8" stroke="#9e9e9e" stroke-width="1.1"/>
<line x1="200.1" y1="281.3" x2="337.6" y2="281.3" stroke="#9e9e9e" stroke-width="1.1"/>
<line x1="198.1" y1="281.3" x2="203.1" y2="281.3" stroke="#a0a0a0" stroke-width="0.9"/>
<text x="193.4" y="284.2" font-size="8.7" text-anchor="end" fill="#222" stroke="#222" stroke-width="0.2" >0</text>
<line x1="198.1" y1="263.98" x2="203.1" y2="263.98" stroke="#a0a0a0" stroke-width="0.9"/>
<text x="193.4" y="266.88" font-size="8.7" text-anchor="end" fill="#222" stroke="#222" stroke-width="0.2" >500</text>
<line x1="198.1" y1="246.67" x2="203.1" y2="246.67" stroke="#a0a0a0" stroke-width="0.9"/>
<text x="193.4" y="249.57" font-size="8.7" text-anchor="end" fill="#222" stroke="#222" stroke-width="0.2" >1000</text>
<line x1="198.1" y1="229.35" x2="203.1" y2="229.35" stroke="#a0a0a0" stroke-width="0.9"/>
<text x="193.4" y="232.25" font-size="8.7" text-anchor="end" fill="#222" stroke="#222" stroke-width="0.2" >1500</text>
<line x1="198.1" y1="212.03" x2="203.1" y2="212.03" stroke="#a0a0a0" stroke-width="0.9"/>
<text x="193.4" y="214.93" font-size="8.7" text-anchor="end" fill="#222" stroke="#222" stroke-width="0.2" >2000</text>
<line x1="198.1" y1="194.72" x2="203.1" y2="194.72" stroke="#a0a0a0" stroke-width="0.9"/>
<text x="193.4" y="197.62" font-size="8.7" text-anchor="end" fill="#222" stroke="#222" stroke-width="0.2" >2500</text>
<line x1="198.1" y1="177.4" x2="203.1" y2="177.4" stroke="#a0a0a0" stroke-width="0.9"/>
<text x="193.4" y="180.3" font-size="8.7" text-anchor="end" fill="#222" stroke="#222" stroke-width="0.2" >3000</text>
<line x1="200.6" y1="279.3" x2="200.6" y2="283.3" stroke="#8c8c8c" stroke-width="0.8"/>
<text x="200.6" y="295.5" font-size="8.7" text-anchor="middle" fill="#222" stroke="#222" stroke-width="0.2" >0</text>
<line x1="228" y1="279.3" x2="228" y2="283.3" stroke="#8c8c8c" stroke-width="0.8"/>
<text x="228" y="295.5" font-size="8.7" text-anchor="middle" fill="#222" stroke="#222" stroke-width="0.2" >20</text>
<line x1="255.4" y1="279.3" x2="255.4" y2="283.3" stroke="#8c8c8c" stroke-width="0.8"/>
<text x="255.4" y="295.5" font-size="8.7" text-anchor="middle" fill="#222" stroke="#222" stroke-width="0.2" >40</text>
<line x1="282.8" y1="279.3" x2="282.8" y2="283.3" stroke="#8c8c8c" stroke-width="0.8"/>
<text x="282.8" y="295.5" font-size="8.7" text-anchor="middle" fill="#222" stroke="#222" stroke-width="0.2" >60</text>
<line x1="310.2" y1="279.3" x2="310.2" y2="283.3" stroke="#8c8c8c" stroke-width="0.8"/>
<text x="310.2" y="295.5" font-size="8.7" text-anchor="middle" fill="#222" stroke="#222" stroke-width="0.2" >80</text>
<line x1="337.6" y1="279.3" x2="337.6" y2="283.3" stroke="#8c8c8c" stroke-width="0.8"/>
<text x="337.6" y="295.5" font-size="8.7" text-anchor="middle" fill="#222" stroke="#222" stroke-width="0.2" >100</text>
<polyline points="200.6,279.57 214.3,281.13 255.4,276.97 282.8,280.61 323.9,281.3" fill="none" stroke="#000" stroke-width="1.35" stroke-dasharray="2.2 1.3" stroke-linejoin="miter"/>
<polyline points="200.6,279.4 214.3,280.95 255.4,281.13 282.8,280.61 323.9,281.13" fill="none" stroke="#000" stroke-width="1.45" stroke-dasharray="4.5 1.5 1.2 1.5" stroke-linejoin="miter"/>
<polyline points="200.6,279.57 214.3,281.13 255.4,280.09 282.8,280.78 323.9,281.3" fill="none" stroke="#000" stroke-width="1.1" stroke-linejoin="miter"/>
<rect x="198.2" y="277.27" width="4.8" height="4.6" fill="#000"/>
<rect x="211.9" y="278.83" width="4.8" height="4.6" fill="#000"/>
<rect x="253" y="277.79" width="4.8" height="4.6" fill="#000"/>
<rect x="280.4" y="278.48" width="4.8" height="4.6" fill="#000"/>
<rect x="321.5" y="279" width="4.8" height="4.6" fill="#000"/>
<polygon points="200.6,276.97 203.5,282.17 197.7,282.17" fill="#000"/>
<polygon points="214.3,278.53 217.2,283.73 211.4,283.73" fill="#000"/>
<polygon points="255.4,274.37 258.3,279.57 252.5,279.57" fill="#000"/>
<polygon points="282.8,278.01 285.7,283.21 279.9,283.21" fill="#000"/>
<polygon points="323.9,278.7 326.8,283.9 321,283.9" fill="#000"/>
<polygon points="200.6,276.7 203.3,279.4 200.6,282.1 197.9,279.4" fill="#fff" stroke="#000" stroke-width="1.1"/>
<polygon points="214.3,278.25 217,280.95 214.3,283.65 211.6,280.95" fill="#fff" stroke="#000" stroke-width="1.1"/>
<polygon points="255.4,278.43 258.1,281.13 255.4,283.83 252.7,281.13" fill="#fff" stroke="#000" stroke-width="1.1"/>
<polygon points="282.8,277.91 285.5,280.61 282.8,283.31 280.1,280.61" fill="#fff" stroke="#000" stroke-width="1.1"/>
<polygon points="323.9,278.43 326.6,281.13 323.9,283.83 321.2,281.13" fill="#fff" stroke="#000" stroke-width="1.1"/>
<text x="351.3" y="169.7" font-size="17.5" text-anchor="start" font-weight="bold" fill="#000" stroke="#000" stroke-width="0.2" >F</text>
<text x="407.8" y="169.2" font-size="8.75" text-anchor="start" font-weight="bold" fill="#000" stroke="#000" stroke-width="0.2" >With LBRM Tumor</text>
<line x1="378" y1="176.5" x2="511.9" y2="176.5" stroke="#9a9a9a" stroke-width="1.0"/>
<line x1="511.9" y1="176.5" x2="511.9" y2="282.1" stroke="#9a9a9a" stroke-width="1.0"/>
<line x1="378" y1="176.5" x2="378" y2="282.6" stroke="#8a8a8a" stroke-width="1.3"/>
<line x1="377.5" y1="282.1" x2="511.9" y2="282.1" stroke="#8a8a8a" stroke-width="1.3"/>
<line x1="375.5" y1="282.1" x2="378" y2="282.1" stroke="#8c8c8c" stroke-width="1"/>
<text x="371.9" y="283.3" font-size="8.7" text-anchor="end" fill="#222" stroke="#222" stroke-width="0.2" >0</text>
<line x1="375.5" y1="264.56" x2="378" y2="264.56" stroke="#8c8c8c" stroke-width="1"/>
<text x="371.9" y="265.8" font-size="8.7" text-anchor="end" fill="#222" stroke="#222" stroke-width="0.2" >20</text>
<line x1="375.5" y1="247.02" x2="378" y2="247.02" stroke="#8c8c8c" stroke-width="1"/>
<text x="371.9" y="247.5" font-size="8.7" text-anchor="end" fill="#222" stroke="#222" stroke-width="0.2" >40</text>
<line x1="375.5" y1="229.48" x2="378" y2="229.48" stroke="#8c8c8c" stroke-width="1"/>
<text x="371.9" y="229.5" font-size="8.7" text-anchor="end" fill="#222" stroke="#222" stroke-width="0.2" >60</text>
<line x1="375.5" y1="211.94" x2="378" y2="211.94" stroke="#8c8c8c" stroke-width="1"/>
<text x="371.9" y="210.9" font-size="8.7" text-anchor="end" fill="#222" stroke="#222" stroke-width="0.2" >80</text>
<line x1="375.5" y1="194.4" x2="378" y2="194.4" stroke="#8c8c8c" stroke-width="1"/>
<text x="371.9" y="192.4" font-size="8.7" text-anchor="end" fill="#222" stroke="#222" stroke-width="0.2" >100</text>
<line x1="378" y1="282.1" x2="378" y2="284.1" stroke="#8c8c8c" stroke-width="1"/>
<text x="378" y="294.8" font-size="8.7" text-anchor="middle" fill="#222" stroke="#222" stroke-width="0.2" >0</text>
<line x1="404.78" y1="282.1" x2="404.78" y2="284.1" stroke="#8c8c8c" stroke-width="1"/>
<text x="404.78" y="294.8" font-size="8.7" text-anchor="middle" fill="#222" stroke="#222" stroke-width="0.2" >20</text>
<line x1="431.56" y1="282.1" x2="431.56" y2="284.1" stroke="#8c8c8c" stroke-width="1"/>
<text x="431.56" y="294.8" font-size="8.7" text-anchor="middle" fill="#222" stroke="#222" stroke-width="0.2" >40</text>
<line x1="458.34" y1="282.1" x2="458.34" y2="284.1" stroke="#8c8c8c" stroke-width="1"/>
<text x="458.34" y="294.8" font-size="8.7" text-anchor="middle" fill="#222" stroke="#222" stroke-width="0.2" >60</text>
<line x1="485.12" y1="282.1" x2="485.12" y2="284.1" stroke="#8c8c8c" stroke-width="1"/>
<text x="485.12" y="294.8" font-size="8.7" text-anchor="middle" fill="#222" stroke="#222" stroke-width="0.2" >80</text>
<line x1="511.9" y1="282.1" x2="511.9" y2="284.1" stroke="#8c8c8c" stroke-width="1"/>
<text x="511.9" y="294.8" font-size="8.7" text-anchor="middle" fill="#222" stroke="#222" stroke-width="0.2" >100</text>
<text transform="translate(354.2,232.6) rotate(-90)" font-size="8.9" font-weight="bold" text-anchor="middle" fill="#000" stroke="#000" stroke-width="0.3">% Survival</text>
<polyline points="378,194.4 388.44,194.4 388.44,212.64 392.06,212.64 392.06,215.45 394.34,215.45 394.34,246.32 398.89,246.32 398.89,252.46 430.89,252.46 430.89,262.19 449.23,262.19 449.23,271.23 458.61,271.23 458.61,282.1" fill="none" stroke="#222" stroke-width="1.0" stroke-dasharray="3 1.2 1 1.2" stroke-linejoin="miter"/>
<polyline points="378,194.4 390.05,194.4 390.05,212.38 394.07,212.38 394.07,215.45 398.49,215.45 398.49,220.01 448.97,220.01 448.97,225.45 482.44,225.45" fill="none" stroke="#111" stroke-width="1.1" stroke-dasharray="3 2" stroke-linejoin="miter"/>
<polyline points="378,194.4 390.72,194.4 390.72,205.27 392.46,205.27 392.46,211.94 394.07,211.94 394.07,218.08 395.81,218.08 395.81,241.76 397.01,241.76 397.01,243.95 398.89,243.95 398.89,246.58 406.39,246.58 406.39,252.46 430.89,252.46 430.89,256.75 449.9,256.75 449.9,262.89 452.31,262.89 452.31,269.21 485.79,269.21" fill="none" stroke="#000" stroke-width="1.3" stroke-linejoin="miter"/>
<rect x="479.54" y="262.1" width="5.8" height="5.8" fill="#000"/>
<polygon points="482.44,220.79 485.85,226.99 479.03,226.99" fill="#000"/>
<polygon points="454.32,276.07 457.02,278.77 454.32,281.47 451.62,278.77" fill="#fff" stroke="#000" stroke-width="0.9"/>
<text x="474.3" y="223" font-size="8.5" text-anchor="start" font-weight="bold" fill="#222" stroke="#222" stroke-width="0.2" >*</text>
<line x1="415.2" y1="182.6" x2="430.8" y2="182.6" stroke="#000" stroke-width="1.4"/>
<rect x="419.8" y="179.8" width="5.8" height="5.6" fill="#000"/>
<line x1="415" y1="191.7" x2="418" y2="191.7" stroke="#111" stroke-width="1.2"/>
<line x1="427.2" y1="191.7" x2="430.8" y2="191.7" stroke="#111" stroke-width="1.2"/>
<polygon points="423,189.3 426,195.7 420,195.7" fill="#000"/>
<line x1="415.1" y1="201.3" x2="420.4" y2="201.3" stroke="#111" stroke-width="1.2"/>
<line x1="426" y1="201.3" x2="430.2" y2="201.3" stroke="#111" stroke-width="1.2"/>
<polygon points="423.2,198.5 426,201.4 423.2,204.3 420.4,201.4" fill="#fff" stroke="#000" stroke-width="1.0"/>
<text x="434.2" y="185.6" font-size="7.4" text-anchor="start" fill="#222" stroke="#222" stroke-width="0.2" >HSC + T</text>
<text x="434.2" y="195.3" font-size="7.4" text-anchor="start" fill="#222" stroke="#222" stroke-width="0.2" >HSC + T + WT pDC</text>
<text x="434.2" y="203.9" font-size="7.4" text-anchor="start" fill="#222" stroke="#222" stroke-width="0.2" >HSC + T + IDO1<tspan font-size="4.2" dy="-2.8" stroke-width="0">-/-</tspan><tspan dy="2.8"> pDC</tspan></text>
<line x1="102.3" y1="302.7" x2="414.5" y2="302.7" stroke="#111" stroke-width="1.3"/>
<polygon points="413.5,300.6 418.6,302.7 413.5,304.8" fill="#111"/>
<text x="198" y="313.8" font-size="8.7" text-anchor="start" fill="#222" stroke="#222" stroke-width="0.2" >Days post-transplant</text>
</svg></body></html>
